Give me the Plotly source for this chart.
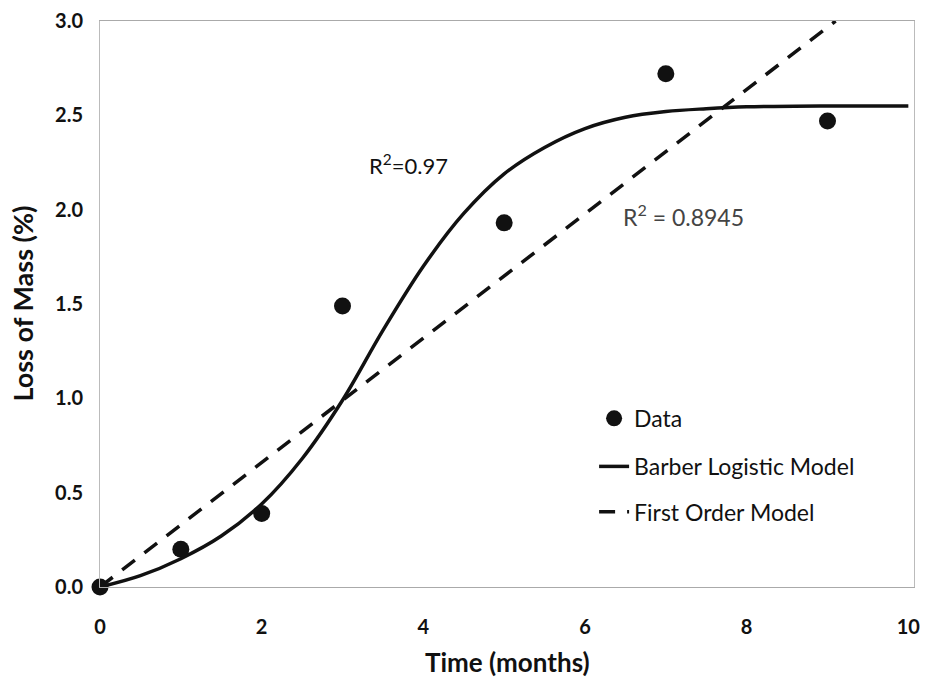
import plotly.graph_objects as go

# Observed data
time_data = [0, 1, 2, 3, 5, 7, 9]
mass_data = [0.0, 0.20, 0.39, 1.49, 1.93, 2.72, 2.47]

# Barber logistic model curve
time_logistic = [0, 0.5, 1, 1.5, 2, 2.5, 3, 3.5, 4, 4.5, 5, 5.5, 6, 6.5, 7, 7.5, 8, 9, 10]
mass_logistic = [0.0, 0.06, 0.15, 0.27, 0.44, 0.68, 0.99, 1.36, 1.70, 1.98, 2.19, 2.33, 2.43, 2.49, 2.52, 2.535, 2.545, 2.55, 2.55]

# First order model line
time_first = [0, 9.1]
mass_first = [0.0, 3.0]

x_ticks = [0, 2, 4, 6, 8, 10]
y_ticks = [0.0, 0.5, 1.0, 1.5, 2.0, 2.5, 3.0]
y_tick_labels = ["0.0", "0.5", "1.0", "1.5", "2.0", "2.5", "3.0"]

FONT = "Lato"

fig = go.Figure()
fig.add_trace(go.Scatter(x=time_logistic, y=mass_logistic, mode="lines", name="Barber Logistic Model",
                         line=dict(color="#111111", width=3.5, shape="spline", smoothing=1.0),
                         legend="legend2"))
fig.add_trace(go.Scatter(x=time_first, y=mass_first, mode="lines", name="First Order Model",
                         line=dict(color="#111111", width=3.5, dash="16px,12px"), legend="legend3"))
fig.add_trace(go.Scatter(x=time_data, y=mass_data, mode="markers", name="Data",
                         marker=dict(color="#111111", size=17), legend="legend", cliponaxis=False))

legend_common = dict(xref="paper", yref="paper", xanchor="left", yanchor="middle",
                     bgcolor="rgba(0,0,0,0)", font=dict(family=FONT, size=23, color="#111111"))
fig.update_layout(
    width=928, height=679,
    margin=dict(l=100, r=8, t=21, b=92),
    plot_bgcolor="white", paper_bgcolor="white",
    showlegend=True,
    legend=dict(x=0.607, y=0.298, **legend_common),
    legend2=dict(x=0.607, y=0.213, **legend_common),
    legend3=dict(x=0.607, y=0.133, **legend_common),
    xaxis=dict(range=[0, 10.07], tickvals=x_ticks, ticktext=[str(v) for v in x_ticks],
               showgrid=False, zeroline=False, showline=True, mirror=True,
               linecolor="#aaaaaa", linewidth=1, ticks="", ticklabelstandoff=22,
               tickfont=dict(family=FONT, size=20, color="#111111", weight="bold")),
    yaxis=dict(range=[0, 3.0], tickvals=y_ticks, ticktext=y_tick_labels,
               showgrid=False, zeroline=False, showline=True, mirror=True,
               linecolor="#bbbbbb", linewidth=1, ticks="", ticklabelstandoff=12,
               tickfont=dict(family=FONT, size=20, color="#111111", weight="bold")),
    annotations=[
        dict(text="Time (months)", xref="paper", yref="paper", x=0.5, y=-0.1325,
             xanchor="center", yanchor="middle", showarrow=False,
             font=dict(family=FONT, size=26, color="#111111", weight="bold")),
        dict(text="Loss of Mass (%)", xref="paper", yref="paper", x=-0.0963, y=0.50,
             xanchor="center", yanchor="middle", textangle=-90, showarrow=False,
             font=dict(family=FONT, size=27, color="#111111", weight="bold")),
        dict(text="R<sup>2</sup>=0.97", x=3.82, y=2.24, xref="x", yref="y",
             showarrow=False, font=dict(family=FONT, size=22, color="#111111")),
        dict(text="R<sup>2</sup> = 0.8945", x=7.22, y=1.97, xref="x", yref="y",
             showarrow=False, font=dict(family=FONT, size=23, color="#444444")),
    ],
)

fig.write_html("out.html")
